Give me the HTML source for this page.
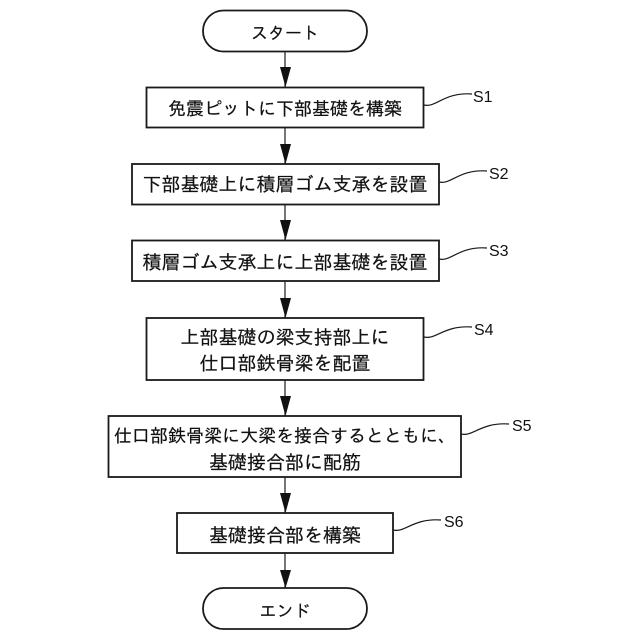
<!DOCTYPE html>
<html lang="ja"><head><meta charset="utf-8"><style>
html,body{margin:0;padding:0;background:#fff}
svg{display:block}
text{fill:#111}
.t{font-family:"IPAGothic","Noto Sans CJK JP",sans-serif;font-size:19px;text-anchor:middle;stroke:#111;stroke-width:.2}
.s{font-family:"Liberation Sans",sans-serif;font-size:16px}
.b{fill:#fff;stroke:#1a1a1a;stroke-width:1.8}
.l{fill:none;stroke:#1a1a1a;stroke-width:1.2}
.a{fill:#111}
</style></head><body>
<svg width="640" height="640" viewBox="0 0 640 640" xmlns="http://www.w3.org/2000/svg">
<g class="l">
<path d="M285 52V88M285 127V165M285 204V241M285 281V319M285 380V417M285 477V514M285 553V589"/>
<path d="M424 105C436 108 444 92 472 94"/>
<path d="M439 182C451 185 459 169 487 171"/>
<path d="M439 259C451 262 459 246 487 248"/>
<path d="M424 337C436 340 444 325 472 327"/>
<path d="M461 434C473 437 481 422 509 424"/>
<path d="M393 530C405 533 413 518 441 520"/>
</g>
<g class="a">
<path d="M280 67H291L285.500 87Z"/>
<path d="M280 144H291L285.500 164Z"/>
<path d="M280 220H291L285.500 240Z"/>
<path d="M280 298H291L285.500 318Z"/>
<path d="M280 396H291L285.500 416Z"/>
<path d="M280 493H291L285.500 513Z"/>
<path d="M280 570H291L285.500 588Z"/>
</g>
<rect class="b" x="203" y="10.500" width="164" height="41" rx="20.500"/>
<rect class="b" x="146.500" y="87.500" width="277" height="40"/>
<rect class="b" x="132" y="164" width="307" height="40.500"/>
<rect class="b" x="132" y="240.500" width="307" height="40.500"/>
<rect class="b" x="146.500" y="318" width="277" height="62"/>
<rect class="b" x="108.500" y="416" width="352.500" height="61"/>
<rect class="b" x="177" y="513" width="216" height="40"/>
<rect class="b" x="203" y="588" width="164" height="41" rx="20.500"/>
<text class="t" x="285" y="39" style="font-size:17px">スタート</text>
<text class="t" x="285" y="115" style="font-size:18px">免震ピットに下部基礎を構築</text>
<text class="t" x="285" y="191">下部基礎上に積層ゴム支承を設置</text>
<text class="t" x="285" y="269">積層ゴム支承上に上部基礎を設置</text>
<text class="t" x="285" y="344">上部基礎の梁支持部上に</text>
<text class="t" x="285" y="370">仕口部鉄骨梁を配置</text>
<text class="t" x="285" y="442" style="font-size:18px">仕口部鉄骨梁に大梁を接合するとともに、</text>
<text class="t" x="285" y="469">基礎接合部に配筋</text>
<text class="t" x="285" y="542">基礎接合部を構築</text>
<text class="t" x="285" y="617" style="font-size:17px">エンド</text>
<text class="s" x="473" y="102">S1</text>
<text class="s" x="489" y="179">S2</text>
<text class="s" x="489" y="256">S3</text>
<text class="s" x="474" y="335">S4</text>
<text class="s" x="512" y="431">S5</text>
<text class="s" x="444" y="527">S6</text>
</svg>
</body></html>
